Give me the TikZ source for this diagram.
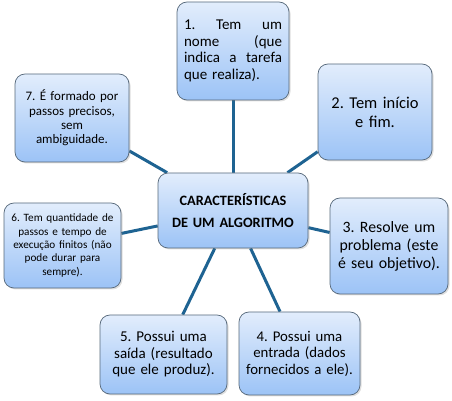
\documentclass[tikz,border=0pt]{standalone}
\usepackage{fontspec}
\setmainfont{Carlito}
\usetikzlibrary{shadows,backgrounds}
\definecolor{linkc}{HTML}{1E6392}
\definecolor{topc}{HTML}{E2EDFC}
\definecolor{botc}{HTML}{9CC3F6}
\definecolor{edgec}{HTML}{56687A}
\tikzset{
  box/.style={draw=edgec, line width=0.7pt, rounded corners=10pt,
    top color=topc, bottom color=botc, inner xsep=7pt, inner ysep=0pt,
    drop shadow={shadow xshift=1.5pt, shadow yshift=-1.5pt, opacity=0.25},
    align=center},
  link/.style={draw=linkc, line width=3pt}
}
\begin{document}
\frenchspacing
\begin{tikzpicture}[x=1pt,y=1pt]
\useasboundingbox (0,0) rectangle (452,401);
\node[box, minimum width=112pt, minimum height=98pt, text width=98pt, align=left,
  font=\fontsize{15}{16.7}\selectfont] (b1) at (233,350)
  {1.\hfill Tem\hfill um\\ nome\hfill (que\\ indica\hfill a\hfill tarefa\\ que realiza).};
\node[box, minimum width=114pt, minimum height=96pt, text width=100pt,
  font=\fontsize{16.5}{19}\selectfont] (b2) at (375,289) {2. Tem início\\ e fim.};
\node[box, minimum width=114pt, minimum height=88pt, text width=104pt, inner xsep=5pt,
  font=\fontsize{13}{14.4}\selectfont] (b7) at (72,283)
  {7. É formado por\\ passos precisos,\\ sem\\ ambiguidade.\\[5pt]};
\node[box, minimum width=150pt, minimum height=75pt, text width=140pt, inner xsep=5pt,
  font=\fontsize{14.3}{22.5}\selectfont\bfseries] (c) at (233,190.5)
  {CARACTERÍSTICAS\\ DE UM ALGORITMO};
\node[box, minimum width=117pt, minimum height=85pt, text width=111pt, inner xsep=3pt,
  font=\fontsize{11.2}{13.3}\selectfont] (b6) at (62.5,155.5)
  {6. Tem quantidade de\\ passos e tempo de\\ execução finitos (não\\ pode durar para\\ sempre).};
\node[box, minimum width=118pt, minimum height=96pt, text width=112pt, inner xsep=3pt,
  font=\fontsize{15.8}{18}\selectfont] (b3) at (389,155)
  {3. Resolve um\\ problema (este\\ é seu objetivo).};
\node[box, minimum width=127pt, minimum height=79pt, text width=117pt, inner xsep=5pt,
  font=\fontsize{15}{16.5}\selectfont] (b5) at (163.5,46.5)
  {5. Possui uma\\ saída (resultado\\ que ele produz).};
\node[box, minimum width=121pt, minimum height=83pt, text width=115pt, inner xsep=3pt,
  font=\fontsize{14.8}{16.5}\selectfont] (b4) at (299.5,47.5)
  {4. Possui uma\\ entrada (dados\\ fornecidos a ele).};
\begin{scope}[on background layer]
\draw[link] (c) -- (b1);
\draw[link] (c) -- (b2);
\draw[link] (c) -- (b3);
\draw[link] (c) -- (b4);
\draw[link] (c) -- (b5);
\draw[link] (c) -- (b6);
\draw[link] (c) -- (b7);
\end{scope}
\end{tikzpicture}
\end{document}
